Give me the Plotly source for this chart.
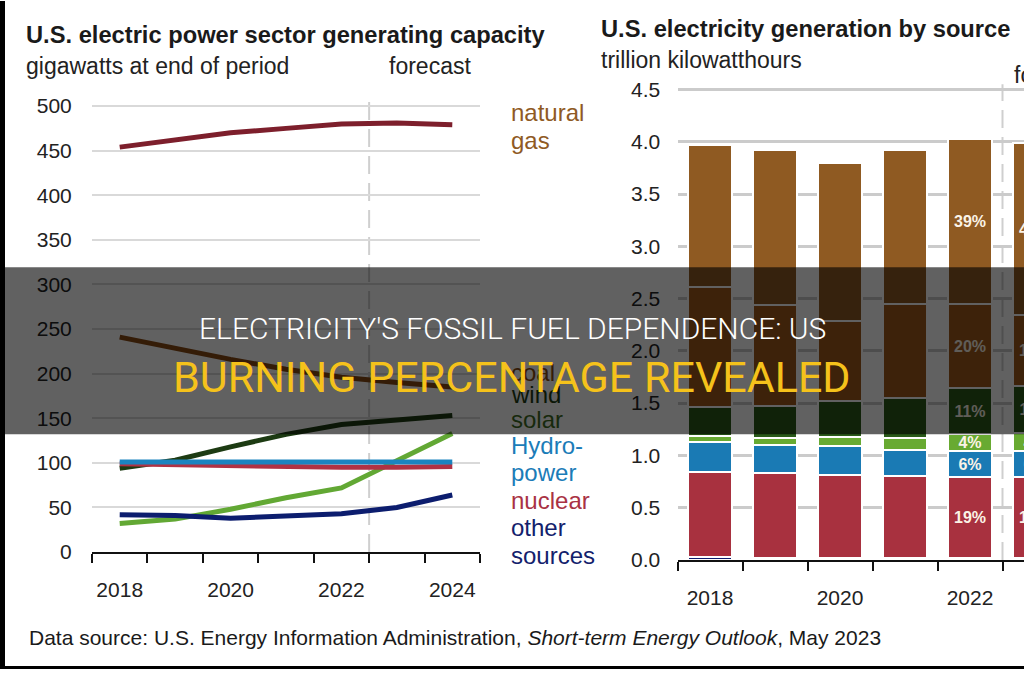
import plotly.graph_objects as go

W, H = 1024, 680

# ---------------- data: left chart (generating capacity, GW) ----------------
cap_years = [2018, 2019, 2020, 2021, 2022, 2023, 2024]
cap_natural_gas = [454, 462, 470, 475, 480, 481, 479]
cap_coal = [241, 228, 216, 205, 196, 190, 185]
cap_wind = [94, 103, 118, 132, 143, 148, 153]
cap_solar = [32, 37, 48, 61, 72, 102, 133]
cap_hydro = [101, 101, 102, 101, 101, 101, 101]
cap_nuclear = [99, 98, 96, 95, 95, 95, 96]
cap_other = [42, 41, 38, 40, 43, 50, 64]
cap_xtick_years = [2018, 2020, 2022, 2024]
cap_yticks = [0, 50, 100, 150, 200, 250, 300, 350, 400, 450, 500]
cap_forecast_start = 2022.5

# ---------------- data: right chart (generation, trillion kWh) ----------------
gen_years = [2018, 2019, 2020, 2021, 2022, 2023]
gen_other = [0.03, 0.02, 0.02, 0.02, 0.02, 0.02]
gen_nuclear = [0.81, 0.81, 0.79, 0.78, 0.77, 0.77]
gen_hydro = [0.29, 0.27, 0.28, 0.25, 0.25, 0.25]
gen_solar = [0.06, 0.07, 0.09, 0.12, 0.16, 0.17]
gen_wind = [0.27, 0.30, 0.34, 0.38, 0.44, 0.45]
gen_coal = [1.15, 0.97, 0.77, 0.90, 0.81, 0.68]
gen_gas = [1.36, 1.48, 1.51, 1.47, 1.58, 1.65]
gen_pct_nuclear = ["", "", "", "", "19%", "19%"]
gen_pct_hydro = ["", "", "", "", "6%", "6%"]
gen_pct_solar = ["", "", "", "", "4%", "4%"]
gen_pct_wind = ["", "", "", "", "11%", "11%"]
gen_pct_coal = ["", "", "", "", "20%", "17%"]
gen_pct_gas = ["", "", "", "", "39%", "41%"]
gen_xtick_years = [2018, 2020, 2022]
gen_yticks = [0.0, 0.5, 1.0, 1.5, 2.0, 2.5, 3.0, 3.5, 4.0, 4.5]
gen_forecast_start = 2022.5

# ---------------- text ----------------
left_title = "U.S. electric power sector generating capacity"
left_sub = "gigawatts at end of period"
right_title = "U.S. electricity generation by source"
right_sub = "trillion kilowatthours"
forecast_txt = "forecast"
footer = ("Data source: U.S. Energy Information Administration, "
          "<i>Short-term Energy Outlook</i>, May 2023")
banner_line1 = "ELECTRICITY'S FOSSIL FUEL DEPENDENCE: US"
banner_line2 = "BURNING PERCENTAGE REVEALED"

FONT = "Liberation Sans, Arial, sans-serif"
BANNER_ALPHA = 0.62


def shade(hex_color, alpha=BANNER_ALPHA):
    h = hex_color.lstrip("#")
    r, g, b = (int(h[i:i + 2], 16) for i in (0, 2, 4))
    f = 1 - alpha
    return "#%02x%02x%02x" % (int(r * f), int(g * f), int(b * f))


def px_x(p):
    return p / W


def px_y(p):
    return 1 - p / H


fig = go.Figure()

# ---- left chart lines ----
line_series = [
    ("natural gas", cap_natural_gas, "#7d1f2c"),
    ("coal", cap_coal, "#8a4a14"),
    ("wind", cap_wind, "#1d3b13"),
    ("solar", cap_solar, "#62a834"),
    ("nuclear", cap_nuclear, "#b03244"),
    ("Hydropower", cap_hydro, "#1b84c0"),
    ("other", cap_other, "#0c1d6e"),
]
for name, vals, col in line_series:
    fig.add_trace(go.Scatter(
        x=cap_years, y=vals, mode="lines", name=name,
        line=dict(color=col, width=5), xaxis="x", yaxis="y",
        showlegend=False, hoverinfo="skip"))

# ---- right chart stacked bars ----
bar_series = [
    ("other", gen_other, "#0c1d6e", None),
    ("nuclear", gen_nuclear, "#a8313f", gen_pct_nuclear),
    ("hydro", gen_hydro, "#1a7ab4", gen_pct_hydro),
    ("solar", gen_solar, "#68aa32", gen_pct_solar),
    ("wind", gen_wind, "#2a5a1a", gen_pct_wind),
    ("coal", gen_coal, "#a05a1c", gen_pct_coal),
    ("natural gas", gen_gas, "#8f5a22", gen_pct_gas),
]
for name, vals, col, txt in bar_series:
    fig.add_trace(go.Bar(
        x=gen_years, y=vals, name=name, xaxis="x2", yaxis="y2",
        marker=dict(color=col, line=dict(color="white", width=2)),
        text=txt, textposition="inside" if txt else "none",
        insidetextanchor="middle", textangle=0,
        textfont=dict(family=FONT, size=16, color="#fbf3e6", weight="bold"),
        showlegend=False, hoverinfo="skip"))

half_left = [y - 0.5 for y in cap_years] + [cap_years[-1] + 0.5]
half_right = [y - 0.5 for y in gen_years] + [gen_years[-1] + 0.5]

axis_common = dict(showgrid=False, zeroline=False, showline=True,
                   linecolor="#111111", linewidth=2, ticks="outside",
                   tickcolor="rgba(0,0,0,0)", ticklen=18,
                   tickfont=dict(family=FONT, size=21, color="#222222"),
                   fixedrange=True)

fig.update_layout(
    width=W, height=H, margin=dict(l=0, r=0, t=0, b=0),
    paper_bgcolor="white", plot_bgcolor="white",
    barmode="stack", bargap=0.31,
    uniformtext=dict(minsize=15, mode="show"),
    xaxis=dict(domain=[px_x(92), px_x(480)], range=[2017.5, 2024.5],
               tickmode="array", tickvals=cap_xtick_years,
               minor=dict(tickmode="array", tickvals=half_left, ticks="outside",
                          ticklen=9, tickwidth=2, tickcolor="#111111",
                          showgrid=False),
               anchor="y", **axis_common),
    yaxis=dict(domain=[px_y(561), px_y(88.8)], range=[0, 520],
               tickmode="array", tickvals=cap_yticks,
               showgrid=True, gridcolor="#d9d9d9", gridwidth=2,
               zeroline=False, showline=False, ticks="outside",
               tickcolor="rgba(0,0,0,0)", ticklen=15,
               tickfont=dict(family=FONT, size=21, color="#222222"),
               anchor="x", fixedrange=True),
    xaxis2=dict(domain=[px_x(677.5), 1.0],
                range=[2017.5, 2017.5 + (W - 677.5) / 65.0],
                tickmode="array", tickvals=gen_xtick_years,
                minor=dict(tickmode="array", tickvals=half_right, ticks="outside",
                           ticklen=9, tickwidth=2, tickcolor="#111111",
                           showgrid=False),
                anchor="y2", **axis_common),
    yaxis2=dict(domain=[px_y(569), px_y(79.4)], range=[0, 4.6],
                tickmode="array", tickvals=gen_yticks, tickformat=".1f",
                showgrid=True, gridcolor="#cbcbcb", gridwidth=2.5,
                zeroline=False, showline=False, ticks="outside",
                tickcolor="rgba(0,0,0,0)", ticklen=12,
                tickfont=dict(family=FONT, size=21, color="#222222"),
                anchor="x2", fixedrange=True),
)

shapes = [
    dict(type="line", xref="x", yref="y", x0=cap_forecast_start, x1=cap_forecast_start,
         y0=0, y1=508, line=dict(color="#cfcfcf", width=2, dash="18px,9px"), layer="below"),
    dict(type="line", xref="x2", yref="y2", x0=gen_forecast_start, x1=gen_forecast_start,
         y0=0, y1=4.55, line=dict(color="#cfcfcf", width=2, dash="18px,9px"), layer="below"),
    # dark banner
    dict(type="rect", xref="paper", yref="paper", x0=0, x1=1,
         y0=px_y(441), y1=px_y(271), fillcolor="rgba(0,0,0,%.2f)" % BANNER_ALPHA,
         line=dict(width=0), layer="above"),
    # black frame edges
    dict(type="rect", xref="paper", yref="paper", x0=0, x1=px_x(5), y0=0, y1=1,
         fillcolor="black", line=dict(width=0), layer="above"),
    dict(type="rect", xref="paper", yref="paper", x0=0, x1=1, y0=0, y1=px_y(677),
         fillcolor="black", line=dict(width=0), layer="above"),
]

ann = []


def add_text(text, x, y, size, color, xanchor="left", family=FONT, weight=None):
    f = dict(family=family, size=size, color=color)
    if weight is not None:
        f["weight"] = weight
    ann.append(dict(text=text, x=px_x(x), y=px_y(y), xref="paper", yref="paper",
                    xanchor=xanchor, yanchor="middle", showarrow=False, font=f))


add_text("<b>%s</b>" % left_title, 24, 35, 23.7, "#1a1a1a")
add_text(left_sub, 24, 66, 23, "#222222")
add_text(forecast_txt, 387, 66, 23, "#222222")
add_text("<b>%s</b>" % right_title, 599, 28, 23.7, "#1a1a1a")
add_text(right_sub, 599, 60, 23, "#222222")
add_text(forecast_txt, 1012, 75, 23, "#222222")

# series labels for the left chart
series_labels = [
    ("natural", 114, "#8f5a24", False),
    ("gas", 142, "#8f5a24", False),
    ("coal", 378, "#8a4a14", True),
    ("wind", 401, "#1d3b13", True),
    ("solar", 426, "#3f6e24", True),
    ("Hydro-", 452, "#1b7cb8", False),
    ("power", 480, "#1b7cb8", False),
    ("nuclear", 508, "#a93244", False),
    ("other", 536, "#13216c", False),
    ("sources", 564, "#13216c", False),
]
for txt, y, col, in_banner in series_labels:
    add_text(txt, 509, y, 24, shade(col) if in_banner else col)

add_text(footer, 27, 648, 21, "#1a1a1a")

add_text(banner_line1, 512, 333, 30, "#ffffff", xanchor="center", family="Roboto", weight=300)
add_text(banner_line2, 512, 383, 43, "#f5c21b", xanchor="center", family="Roboto")

fig.update_layout(shapes=shapes, annotations=ann)

fig.write_html("out.html")
